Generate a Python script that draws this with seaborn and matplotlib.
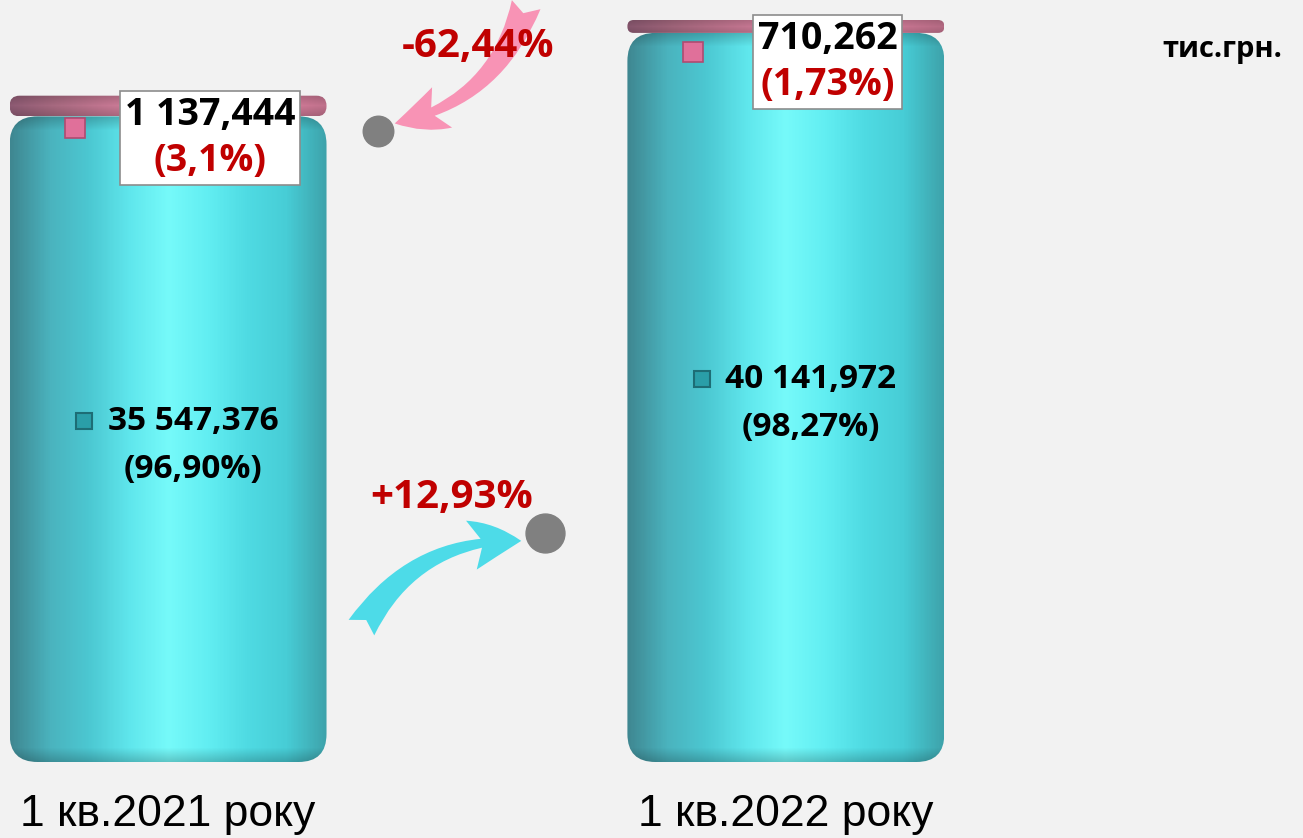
import numpy as np
import pandas as pd
import seaborn as sns
import matplotlib.pyplot as plt
from matplotlib.patches import FancyBboxPatch, FancyArrowPatch
from matplotlib.colors import LinearSegmentedColormap
from matplotlib.offsetbox import TextArea, VPacker, AnnotationBbox
from matplotlib import transforms

# data, тис.грн.
periods = ['1 кв.2021 року', '1 кв.2022 року']
main_values = [35547.376, 40141.972]
main_labels = ['35 547,376', '40 141,972']
main_shares = ['(96,90%)', '(98,27%)']
other_values = [1137.444, 710.262]
other_labels = ['1 137,444', '710,262']
other_shares = ['(3,1%)', '(1,73%)']
change_main = '+12,93%'
change_other = '-62,44%'
unit = 'тис.грн.'

W, H = 1303, 838
BG = '#f2f2f2'
RED = '#c00000'
CYAN_STOPS = ['#3f8791', '#4ab3be', '#4cc8d2', '#5fe6ec', '#76fafa', '#62eef2', '#4fdbe3', '#47cdd6', '#3ea3ab']
PINK_STOPS = ['#96607a', '#b27088', '#cc7c98', '#e489a8', '#f895b6', '#f08fb0', '#e285a5', '#cc7894']

sns.set_theme(style='white')
plt.rcParams['font.family'] = ['Open Sans', 'DejaVu Sans']

df = pd.DataFrame({'period': periods, 'main': main_values, 'other': other_values})
df['total'] = df['main'] + df['other']

fig = plt.figure(figsize=(W / 100, H / 100), dpi=100, facecolor=BG)
ax = fig.add_axes([0, 0, 1, 1])
ax.set_facecolor(BG)

# stacked bars: total first, main on top of it
sns.barplot(data=df, x='period', y='total', color=PINK_STOPS[4], width=0.513, saturation=1, ax=ax)
sns.barplot(data=df, x='period', y='main', color=CYAN_STOPS[4], width=0.513, saturation=1, ax=ax)

ymax = df['total'].max()
XLIM = (-0.272, 1.837)
YLIM = (-76 / 742 * ymax, 762 / 742 * ymax)
ax.set_xlim(*XLIM)
ax.set_ylim(*YLIM)
ax.axis('off')

px_x = W / (XLIM[1] - XLIM[0])
px_y = H / (YLIM[1] - YLIM[0])


def cylinder(x0, x1, y0, y1, stops, radius_px, z):
    w_px = int(round((x1 - x0) * px_x))
    h_px = max(int(round((y1 - y0) * px_y)), 2)
    r_px = min(radius_px, h_px / 2.1)
    patch = FancyBboxPatch((x0, y0), x1 - x0, y1 - y0,
                           boxstyle=f'round,pad=0,rounding_size={r_px / px_x}',
                           mutation_aspect=px_x / px_y,
                           fc='none', ec='none', zorder=z)
    ax.add_patch(patch)
    cmap = LinearSegmentedColormap.from_list('c', stops)
    cols = cmap(np.linspace(0, 1, w_px))[:, :3]
    rows = np.arange(h_px)
    edge = np.minimum(rows, h_px - 1 - rows)
    fac = 1 - 0.2 * np.clip(1 - edge / 14, 0, 1)
    img = np.clip(cols[None, :, :] * fac[:, None, None], 0, 1)
    im = ax.imshow(img, extent=(x0, x1, y0, y1), aspect='auto', zorder=z,
                   interpolation='bilinear')
    im.set_clip_path(patch)


n = len(periods)
tot_bars = ax.patches[:n]
main_bars = ax.patches[n:2 * n]
for i in range(n):
    tb, mb = tot_bars[i], main_bars[i]
    tb.set_visible(False)
    mb.set_visible(False)
    x0, x1 = mb.get_x(), mb.get_x() + mb.get_width()
    xc = (x0 + x1) / 2
    y_main = mb.get_height()
    y_tot = tb.get_height()
    cylinder(x0, x1, 0, y_main, CYAN_STOPS, 28, 2)
    cylinder(x0, x1, y_main, y_tot, PINK_STOPS, 28, 3)

    # label inside the main segment
    ym = y_main / 2
    ax.annotate(main_labels[i], (xc, ym), xytext=(25, 18), textcoords='offset pixels',
                ha='center', va='center', fontsize=24, fontweight='bold', color='black', zorder=5)
    ax.annotate(main_shares[i], (xc, ym), xytext=(25, -30), textcoords='offset pixels',
                ha='center', va='center', fontsize=24, fontweight='bold', color='black', zorder=5)
    tr = transforms.offset_copy(ax.transData, fig=fig, x=-84, y=18, units='dots')
    ax.plot([xc], [ym], marker='s', ms=11, mfc='#2a9ea8', mec='#1d6d75', mew=1.5,
            transform=tr, zorder=5)

    # boxed label for the small segment
    lines = VPacker(children=[
        TextArea(other_labels[i], textprops=dict(fontsize=27, fontweight='bold', color='black')),
        TextArea(other_shares[i], textprops=dict(fontsize=27, fontweight='bold', color=RED)),
    ], align='center', pad=0, sep=6)
    box = AnnotationBbox(lines, (xc, y_tot), xybox=(42, 0), boxcoords='offset pixels',
                         box_alignment=(0.5, 1.0), pad=0.35, frameon=True,
                         bboxprops=dict(boxstyle='square', fc='white', ec='#8c8c8c', lw=1.2),
                         zorder=6)
    ax.add_artist(box)
    tr = transforms.offset_copy(ax.transData, fig=fig, x=-93, y=-32, units='dots')
    ax.plot([xc], [y_tot], marker='s', ms=14, mfc='#e0709a', mec='#b04a70', mew=1.2,
            transform=tr, zorder=6)

    # period label under the bar
    ax.annotate(periods[i], (xc, 0), xytext=(0, -52), textcoords='offset pixels',
                ha='center', va='center', fontsize=32,
                family=['Liberation Sans', 'DejaVu Sans'], color='black')


def fp(x, y):
    return (x / W, 1 - y / H)


# change arrows with end dots
arrow_pink = FancyArrowPatch(fp(527, 2), fp(392, 124), transform=fig.transFigure,
                             arrowstyle='fancy,head_length=1.0,head_width=0.9,tail_width=0.6',
                             mutation_scale=36, connectionstyle='arc3,rad=-0.3',
                             fc='#f893b5', ec='none', zorder=4)
arrow_cyan = FancyArrowPatch(fp(360, 630), fp(524, 541), transform=fig.transFigure,
                             arrowstyle='fancy,head_length=1.0,head_width=1.0,tail_width=0.6',
                             mutation_scale=36, connectionstyle='arc3,rad=-0.3',
                             fc='#4ddbe8', ec='none', zorder=4)
ax.add_patch(arrow_pink)
ax.add_patch(arrow_cyan)
ax.plot(*fp(378, 131), 'o', ms=22, color='#808080', transform=fig.transFigure, zorder=5)
ax.plot(*fp(545, 533), 'o', ms=28, color='#808080', transform=fig.transFigure, zorder=5)

fig.text(*fp(478, 47), change_other, ha='center', va='center', fontsize=29,
         fontweight='bold', color=RED, zorder=7)
fig.text(*fp(452, 497), change_main, ha='center', va='center', fontsize=29,
         fontweight='bold', color=RED, zorder=7)
fig.text(*fp(1222, 49), unit, ha='center', va='center', fontsize=21,
         fontweight='bold', color='black')

ax.set_xlim(*XLIM)
ax.set_ylim(*YLIM)
fig.savefig('out.png', dpi=100, facecolor=BG)
